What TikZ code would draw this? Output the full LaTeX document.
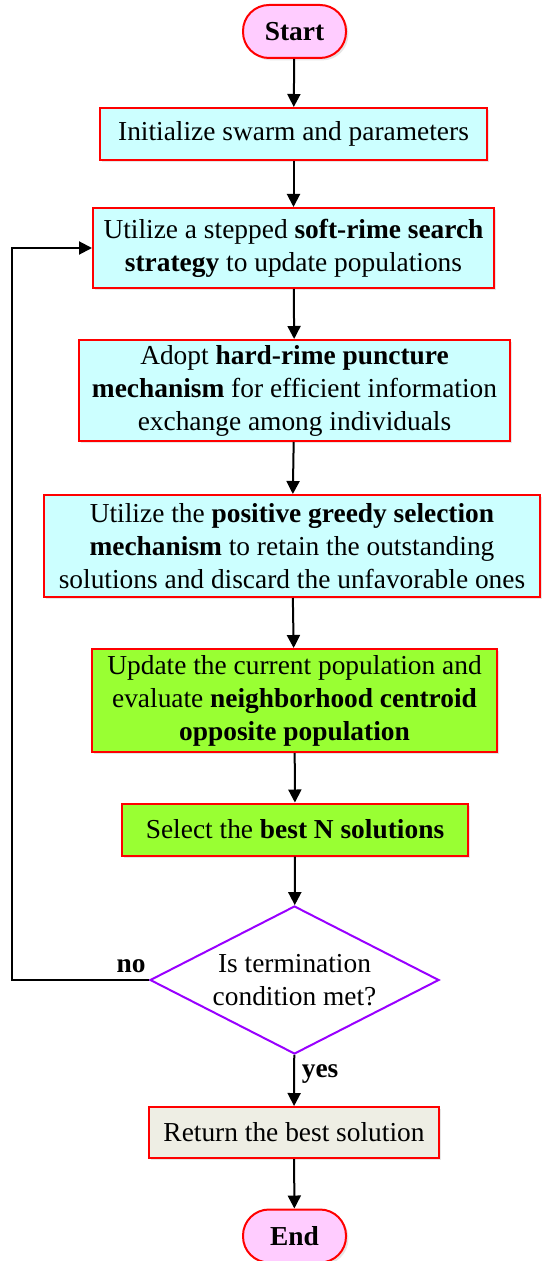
\documentclass[tikz,border=0pt]{standalone}
\usepackage{fontspec}
\setmainfont{Liberation Serif}
\usetikzlibrary{arrows.meta,positioning,shapes.geometric,shadows}
\definecolor{boxred}{HTML}{FF0000}
\definecolor{cyanfill}{HTML}{CCFFFF}
\definecolor{greenfill}{HTML}{99FF33}
\definecolor{pinkfill}{HTML}{FFCCFF}
\definecolor{beigefill}{HTML}{EEEEE4}
\definecolor{decpurple}{HTML}{9900FF}

\begin{document}
\begin{tikzpicture}[
    x=0.5pt, y=-0.5pt,
    font=\fontsize{13.7}{16.5}\selectfont,
    shade/.style={drop shadow={opacity=0.2, shadow xshift=1.2pt, shadow yshift=-1.2pt}},
    terminal/.style={draw=boxred, line width=1pt, fill=pinkfill, rounded corners=13pt, minimum width=51.5pt, minimum height=26.5pt, font=\fontsize{13.7}{16.5}\selectfont\bfseries, shade},
    proc/.style={draw=boxred, line width=1pt, fill=cyanfill, align=center, inner sep=0pt, shade},
    procg/.style={proc, fill=greenfill},
    decision/.style={diamond, shape aspect=2, draw=decpurple, line width=1pt, fill=white, minimum width=144.5pt, minimum height=74pt, inner sep=0pt, align=center},
    arr/.style={-{Triangle[length=6.5pt,width=6.5pt]}, line width=1pt, black}
]
\useasboundingbox (0,0) rectangle (541,1261);

% Start / init
\node[terminal] (start) at (294.5, 31.5) {Start};
\node[proc, minimum width=193.5pt, minimum height=26pt] (init) at (293.5, 134) {Initialize swarm and parameters};

% soft-rime and hard-rime
\node[proc, minimum width=200.5pt, minimum height=40pt] (soft) at (293.5, 248)
    {Utilize a stepped \textbf{soft-rime search}\\ \textbf{strategy} to update populations};
\node[proc, minimum width=215.5pt, minimum height=50.5pt] (hard) at (294.5, 390.5)
    {Adopt \textbf{hard-rime puncture}\\ \textbf{mechanism} for efficient information\\ exchange among individuals};

% greedy selection
\node[proc, minimum width=248pt, minimum height=51pt] (greedy) at (292, 546)
    {Utilize the \textbf{positive greedy selection}\\ \textbf{mechanism} to retain the outstanding\\ solutions and discard the unfavorable ones};

% neighborhood centroid opposite population
\node[procg, minimum width=202.5pt, minimum height=51.5pt] (update) at (294.5, 700.5)
    {Update the current population and\\ evaluate \textbf{neighborhood centroid}\\ \textbf{opposite population}};
\node[procg, minimum width=173pt, minimum height=26pt] (select) at (295, 829.5)
    {Select the \textbf{best N solutions}};

% termination
\node[decision] (check) at (294.5, 980) {Is termination\\ condition met?};
\node[proc, fill=beigefill, minimum width=145pt, minimum height=25.5pt] (ret) at (294, 1132.5)
    {Return the best solution};
\node[terminal] (stop) at (294.5, 1236) {End};

% arrows
\draw[arr] (start) -- (init);
\draw[arr] (init) -- (soft);
\draw[arr] (soft) -- (hard);
\draw[arr] (hard) -- (greedy);
\draw[arr] (greedy) -- (update);
\draw[arr] (update) -- (select);
\draw[arr] (select) -- (check);
\draw[arr] (check) -- node[right, font=\fontsize{13.7}{16.5}\selectfont\bfseries, pos=0.38] {yes} (ret);
\draw[arr] (ret) -- (stop);

% loop back
\coordinate (back) at (12, 980);
\draw[arr] (check.west) -- node[above, pos=0.13, font=\fontsize{13.7}{16.5}\selectfont\bfseries] {no} (back) |- (soft.west);

\end{tikzpicture}
\end{document}
